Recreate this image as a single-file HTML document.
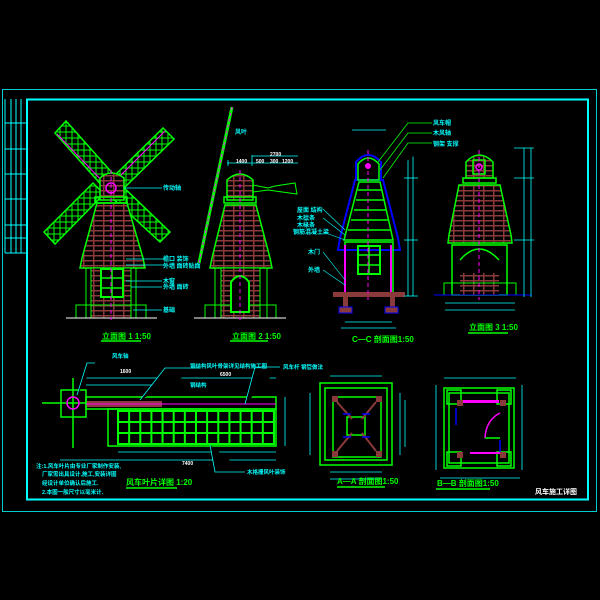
<!DOCTYPE html>
<html><head><meta charset="utf-8"><style>
html,body{margin:0;padding:0;background:#000;width:600px;height:600px;overflow:hidden}
svg{display:block}
text{font-family:"Liberation Sans","Noto Sans CJK SC",sans-serif;font-weight:bold}
</style></head><body>
<svg width="600" height="600" viewBox="0 0 600 600" xmlns="http://www.w3.org/2000/svg">
<defs>
<pattern id="brick" width="10" height="5" patternUnits="userSpaceOnUse">
<rect width="10" height="5" fill="#000"/>
<rect x="0" y="0" width="10" height="1.5" fill="#8a3a3a"/>
<rect x="3" y="0" width="1.5" height="5" fill="#8a3a3a"/>
</pattern>
<pattern id="grid" width="6" height="6" patternUnits="userSpaceOnUse">
<rect width="6" height="6" fill="none" stroke="#0f0" stroke-width="1"/>
</pattern>
<pattern id="grid2" x="118" y="411" width="11.14" height="11" patternUnits="userSpaceOnUse">
<rect width="11.14" height="11" fill="none" stroke="#0f0" stroke-width="2"/>
</pattern>
</defs>
<!-- frames -->
<rect x="2.5" y="89.5" width="594" height="422" fill="none" stroke="#0cc" stroke-width="1"/>
<rect x="27" y="99.5" width="561" height="400" fill="none" stroke="#0ff" stroke-width="2"/>
<g stroke="#0ff" stroke-width="1" fill="none">
<line x1="5" y1="99" x2="5" y2="253"/><line x1="11" y1="99" x2="11" y2="253"/><line x1="16" y1="99" x2="16" y2="253"/><line x1="21" y1="99" x2="21" y2="253"/>
<line x1="5" y1="123" x2="27" y2="123"/><line x1="5" y1="149" x2="27" y2="149"/><line x1="5" y1="174" x2="27" y2="174"/><line x1="5" y1="199" x2="27" y2="199"/><line x1="5" y1="225" x2="27" y2="225"/><line x1="5" y1="238" x2="27" y2="238"/><line x1="5" y1="253" x2="27" y2="253"/>
</g>

<!-- Elevation 1 -->
<g>
<g fill="url(#grid)" stroke="#0f0" stroke-width="1.5">
<polygon points="55,133 66,121 115,176 104,188"/>
<polygon points="163,128 174,139 122,190 111,179"/>
<polygon points="44,232 55,244 104,194 93,183"/>
<polygon points="160,242 170,232 120,184 109,195"/>
</g>
<line x1="57" y1="134" x2="108" y2="187" stroke="#f0f" stroke-width="1"/>
<line x1="165" y1="131" x2="113" y2="183" stroke="#f0f" stroke-width="1"/>
<polygon points="97,203 127,203 143,258 145,268 80,268 82,258" fill="url(#brick)" stroke="#0f0" stroke-width="1.5"/>
<path d="M100,200 L100,178 Q111,168 124,178 L124,200 Z" fill="url(#brick)" stroke="#0f0" stroke-width="1.5"/>
<rect x="95" y="197" width="32" height="6" fill="none" stroke="#0f0" stroke-width="1.5"/>
<rect x="91" y="268" width="40" height="50" fill="url(#brick)" stroke="#0f0" stroke-width="1"/>
<rect x="86" y="268" width="50" height="50" fill="none" stroke="#0f0" stroke-width="1"/>
<rect x="76" y="305" width="70" height="13" fill="none" stroke="#0f0" stroke-width="1"/>
<rect x="101" y="269" width="22" height="28" fill="#000" stroke="#0f0" stroke-width="2"/>
<path d="M101,278H123M101,288H123M112,269V297" stroke="#0f0" stroke-width="1.5"/>
<line x1="66" y1="318" x2="157" y2="318" stroke="#fff" stroke-width="1"/>
<line x1="111" y1="170" x2="111" y2="320" stroke="#f0f" stroke-width="1" stroke-dasharray="4,3"/>
<circle cx="111" cy="188" r="5" fill="none" stroke="#f0f" stroke-width="1.5"/>
<g stroke="#0ff" stroke-width="0.8"><line x1="124" y1="188" x2="162" y2="188"/><line x1="126" y1="259" x2="164" y2="259"/><line x1="126" y1="265" x2="164" y2="265"/><line x1="126" y1="281" x2="162" y2="281"/><line x1="131" y1="287" x2="162" y2="287"/><line x1="133" y1="310" x2="162" y2="310"/></g>
<g fill="#0ff" font-size="6"><text x="163" y="190">传动轴</text><text x="163" y="261">檐口 装饰</text><text x="163" y="268">外墙 面砖贴面</text><text x="163" y="283">木窗</text><text x="163" y="289">外墙 面砖</text><text x="163" y="312">基础</text></g>
<text x="102" y="339" fill="#0f0" font-size="8">立面图 1 1:50</text>
<line x1="101" y1="341" x2="141" y2="341" stroke="#0f0" stroke-width="1.5"/>
</g>

<!-- Elevation 2 -->
<g>
<line x1="232" y1="107" x2="199" y2="263" stroke="#0f0" stroke-width="3"/>
<line x1="232" y1="107" x2="199" y2="263" stroke="#f0f" stroke-width="1" stroke-dasharray="3,3"/>
<polygon points="225,205 256,205 270,258 272,268 210,268 212,258" fill="url(#brick)" stroke="#0f0" stroke-width="1.5"/>
<path d="M227,200 L227,180 Q240,168 253,180 L253,200 Z" fill="url(#brick)" stroke="#0f0" stroke-width="1.5"/>
<rect x="224" y="197" width="32" height="6" fill="none" stroke="#0f0" stroke-width="1.5"/>
<polyline points="253,185 268,188 275,186 295,183 297,194 275,191 268,190 253,192" fill="none" stroke="#0f0" stroke-width="1"/>
<rect x="221" y="268" width="39" height="50" fill="url(#brick)" stroke="#0f0" stroke-width="1"/>
<rect x="215" y="268" width="52" height="50" fill="none" stroke="#0f0" stroke-width="1"/>
<rect x="205" y="305" width="71" height="13" fill="none" stroke="#0f0" stroke-width="1"/>
<path d="M231,312 V282 Q240,270 249,282 V312 Z" fill="#000" stroke="#0f0" stroke-width="2"/>
<line x1="194" y1="318" x2="286" y2="318" stroke="#fff" stroke-width="1"/>
<line x1="240" y1="170" x2="240" y2="320" stroke="#f0f" stroke-width="1" stroke-dasharray="4,3"/>
<g stroke="#0ff" stroke-width="0.8"><line x1="227" y1="163" x2="298" y2="163"/><line x1="252" y1="156" x2="298" y2="156"/><line x1="228" y1="160" x2="228" y2="166"/><line x1="252" y1="155" x2="252" y2="166"/></g>
<g fill="#fff" font-size="5"><text x="236" y="163">1400</text><text x="270" y="156">2700</text><text x="256" y="163">500</text><text x="270" y="163">300</text><text x="282" y="163">1200</text></g>
<text x="235" y="134" fill="#0ff" font-size="6">风叶</text>
<text x="232" y="339" fill="#0f0" font-size="8">立面图 2 1:50</text>
<line x1="230" y1="341" x2="268" y2="341" stroke="#0f0" stroke-width="1.5"/>
</g>

<!-- C-C section -->
<g>
<polygon points="355,180 383,180 398,238 400,250 338,250 340,238" fill="none" stroke="#00f" stroke-width="2"/>
<polygon points="359,182 380,182 393,240 344,240" fill="none" stroke="#0f0" stroke-width="1.5"/>
<g stroke="#0f0" stroke-width="1.5"><line x1="358" y1="190" x2="382" y2="190"/><line x1="356" y1="200" x2="384" y2="200"/><line x1="354" y1="210" x2="386" y2="210"/><line x1="351" y1="220" x2="389" y2="220"/><line x1="348" y1="230" x2="391" y2="230"/></g>
<path d="M356,180 V162 Q368,148 381,162 V180 Z" fill="none" stroke="#00f" stroke-width="2"/>
<path d="M358,180 V164 Q368,152 379,164 V180 Z" fill="none" stroke="#0f0" stroke-width="1.5"/>
<circle cx="368" cy="166" r="3" fill="#f0f"/>
<rect x="345" y="242" width="48" height="51" fill="none" stroke="#0f0" stroke-width="1.5"/>
<rect x="358" y="246" width="22" height="28" fill="none" stroke="#0f0" stroke-width="2"/>
<path d="M358,255H380M358,265H380M369,246V274" stroke="#0f0" stroke-width="1.5"/>
<line x1="391" y1="245" x2="391" y2="293" stroke="#f0f" stroke-width="2"/>
<line x1="345" y1="245" x2="345" y2="293" stroke="#f0f" stroke-width="2"/>
<rect x="333" y="292" width="72" height="5" fill="#8a3a3a"/>
<rect x="343" y="297" width="5" height="14" fill="#8a3a3a"/>
<rect x="390" y="297" width="5" height="14" fill="#8a3a3a"/>
<rect x="339" y="307" width="13" height="6" fill="#8a3a3a" stroke="#00f"/>
<rect x="385" y="307" width="13" height="6" fill="#8a3a3a" stroke="#00f"/>
<line x1="368" y1="150" x2="368" y2="300" stroke="#f0f" stroke-width="1" stroke-dasharray="4,3"/>
<g stroke="#0ff" stroke-width="0.8" fill="none"><line x1="408" y1="148" x2="408" y2="296"/><line x1="413" y1="148" x2="413" y2="296"/><line x1="404" y1="148" x2="418" y2="148"/><line x1="404" y1="178" x2="418" y2="178"/><line x1="404" y1="240" x2="418" y2="240"/><line x1="404" y1="296" x2="418" y2="296"/><line x1="352" y1="130" x2="386" y2="130"/><line x1="345" y1="322" x2="392" y2="322"/><line x1="341" y1="328" x2="396" y2="328"/></g>
<g stroke="#0f0" stroke-width="0.8"><polyline points="378,162 408,123 432,123"/><polyline points="380,170 408,133 432,133"/><polyline points="383,178 408,143 432,143"/></g>
<g fill="#0ff" font-size="6"><text x="433" y="125">风车帽</text><text x="433" y="135">木风轴</text><text x="433" y="146">钢架 支撑</text><text x="297" y="212">屋面 结构</text><text x="297" y="220">木檩条</text><text x="297" y="227">木椽条</text><text x="293" y="234">钢筋混凝土梁</text><text x="308" y="254">木门</text><text x="308" y="272">外墙</text></g>
<g stroke="#0ff" stroke-width="0.6"><line x1="323" y1="209" x2="345" y2="230"/><line x1="323" y1="218" x2="345" y2="235"/><line x1="323" y1="232" x2="345" y2="240"/><line x1="323" y1="252" x2="345" y2="280"/><line x1="323" y1="270" x2="345" y2="285"/></g>
<text x="352" y="342" fill="#0f0" font-size="8">C—C 剖面图1:50</text>
</g>

<!-- Elevation 3 -->
<g>
<path d="M466,178 V162 Q479,148 493,162 V178 Z" fill="url(#brick)" stroke="#0f0" stroke-width="1.5"/>
<rect x="473" y="160" width="12" height="14" fill="none" stroke="#0f0" stroke-width="1.5"/>
<circle cx="479" cy="167" r="3" fill="none" stroke="#f0f" stroke-width="1.5"/>
<rect x="463" y="178" width="33" height="5" fill="none" stroke="#0f0" stroke-width="1.5"/>
<polygon points="459,185 500,185 511,235 512,243 448,243 449,235" fill="url(#brick)" stroke="#0f0" stroke-width="1.5"/>
<rect x="452" y="245" width="55" height="50" fill="none" stroke="#0f0" stroke-width="1.5"/>
<path d="M460,260 Q479,238 499,260" fill="none" stroke="#0f0" stroke-width="1.5"/>
<rect x="460" y="273" width="39" height="22" fill="url(#brick)"/>
<rect x="444" y="283" width="72" height="12" fill="none" stroke="#0f0" stroke-width="1"/>
<line x1="434" y1="295" x2="532" y2="295" stroke="#00f" stroke-width="1"/>
<line x1="479" y1="150" x2="479" y2="300" stroke="#f0f" stroke-width="1" stroke-dasharray="4,3"/>
<g stroke="#0ff" stroke-width="0.8"><line x1="524" y1="148" x2="524" y2="297"/><line x1="531" y1="148" x2="531" y2="297"/><line x1="514" y1="148" x2="534" y2="148"/><line x1="514" y1="178" x2="534" y2="178"/><line x1="514" y1="240" x2="534" y2="240"/><line x1="445" y1="303" x2="515" y2="303"/><line x1="445" y1="310" x2="515" y2="310"/></g>
<text x="469" y="330" fill="#0f0" font-size="8">立面图 3 1:50</text>
<line x1="468" y1="333" x2="508" y2="333" stroke="#0f0" stroke-width="1.5"/>
</g>

<!-- Blade plan -->
<g>
<rect x="61" y="390" width="25" height="27" fill="none" stroke="#0f0" stroke-width="1.5"/>
<line x1="73" y1="378" x2="73" y2="448" stroke="#0f0" stroke-width="1.5"/>
<line x1="42" y1="403" x2="108" y2="403" stroke="#0f0" stroke-width="1.5"/>
<circle cx="73" cy="403" r="6" fill="none" stroke="#f0f" stroke-width="1.5"/>
<rect x="87" y="401" width="75" height="6" fill="#8a3a3a"/>
<rect x="86" y="397" width="190" height="12" fill="none" stroke="#0f0" stroke-width="1.5"/>
<line x1="86" y1="404" x2="276" y2="404" stroke="#f0f" stroke-width="1"/>
<rect x="108" y="409" width="168" height="37" fill="none" stroke="#0f0" stroke-width="1.5"/>
<rect x="118" y="411" width="156" height="33" fill="url(#grid2)" stroke="#0f0" stroke-width="2"/>
<g stroke="#0ff" stroke-width="0.8"><line x1="86" y1="378" x2="276" y2="378"/><line x1="86" y1="385" x2="165" y2="385"/><line x1="60" y1="460" x2="276" y2="460"/><line x1="118" y1="452" x2="276" y2="452"/><line x1="285" y1="397" x2="285" y2="446"/><polyline points="95,363 87,363 77,395"/><polyline points="200,368 165,368 140,400"/><polyline points="280,367 255,367 245,404"/><polyline points="245,472 215,472 210,445"/></g>
<g fill="#0ff" font-size="5.5"><text x="112" y="358">风车轴</text><text x="190" y="368">钢结构风叶骨架详见结构施工图</text><text x="283" y="369">风车杆 钢管做法</text><text x="190" y="387">钢结构</text><text x="247" y="474">木格栅风叶装饰</text></g>
<g fill="#fff" font-size="5"><text x="120" y="373">1600</text><text x="220" y="376">6500</text><text x="182" y="465">7400</text></g>
<text x="126" y="485" fill="#0f0" font-size="8">风车叶片详图 1:20</text>
<line x1="126" y1="488" x2="177" y2="488" stroke="#0f0" stroke-width="1.5"/>
<g fill="#0ff" font-size="5.5"><text x="36" y="468">注:1.风车叶片由专业厂家制作安装,</text><text x="42" y="476">厂家需出具设计,施工,安装详图</text><text x="42" y="485">经设计单位确认后施工.</text><text x="42" y="494">2.本图一般尺寸以毫米计.</text></g>
</g>

<!-- A-A section -->
<g fill="none" stroke="#0f0" stroke-width="1.5">
<rect x="320" y="383" width="72" height="82"/>
<rect x="325" y="388" width="62" height="72"/>
<rect x="333" y="397" width="48" height="60"/>
<rect x="347" y="417" width="18" height="18"/>
<line x1="337" y1="402" x2="352" y2="419" stroke="#8a3a3a" stroke-width="2"/>
<line x1="376" y1="402" x2="362" y2="419" stroke="#8a3a3a" stroke-width="2"/>
<line x1="337" y1="451" x2="352" y2="433" stroke="#8a3a3a" stroke-width="2"/>
<line x1="376" y1="451" x2="362" y2="433" stroke="#8a3a3a" stroke-width="2"/>
</g>
<g fill="#8a3a3a"><rect x="332" y="396" width="6" height="6"/><rect x="376" y="396" width="6" height="6"/><rect x="332" y="451" width="6" height="6"/><rect x="376" y="451" width="6" height="6"/></g>
<g stroke="#00f" stroke-width="1.5"><line x1="343" y1="414" x2="351" y2="414"/><line x1="362" y1="414" x2="370" y2="414"/><line x1="343" y1="437" x2="351" y2="437"/><line x1="362" y1="437" x2="370" y2="437"/></g>
<g stroke="#0ff" stroke-width="0.8"><line x1="330" y1="376" x2="382" y2="376"/><line x1="310" y1="393" x2="310" y2="455"/><line x1="330" y1="472" x2="382" y2="472"/><line x1="330" y1="479" x2="382" y2="479"/><line x1="400" y1="393" x2="400" y2="455"/><line x1="405" y1="400" x2="405" y2="447"/></g>
<text x="337" y="484" fill="#0f0" font-size="8">A—A 剖面图1:50</text>
<line x1="337" y1="487" x2="385" y2="487" stroke="#0f0" stroke-width="1.5"/>

<!-- B-B section -->
<g fill="none" stroke="#0f0" stroke-width="1.5">
<rect x="444" y="388" width="70" height="80"/>
<rect x="449" y="393" width="60" height="70"/>
<rect x="447" y="390" width="14" height="14"/><rect x="497" y="390" width="14" height="14"/>
<rect x="447" y="452" width="14" height="14"/><rect x="497" y="452" width="14" height="14"/>
</g>
<g fill="#8a3a3a"><rect x="457" y="400" width="6" height="6"/><rect x="500" y="400" width="6" height="6"/><rect x="457" y="452" width="6" height="6"/><rect x="500" y="452" width="6" height="6"/></g>
<rect x="463" y="400" width="36" height="3" fill="#f0f"/>
<rect x="470" y="452" width="30" height="2" fill="#f0f"/>
<path d="M485,438 Q486,420 500,413" fill="none" stroke="#f0f" stroke-width="1.5"/>
<line x1="485" y1="438" x2="500" y2="438" stroke="#0f0" stroke-width="1.5"/>
<g stroke="#00f" stroke-width="1.5"><line x1="456" y1="408" x2="456" y2="425"/><line x1="500" y1="440" x2="500" y2="452"/></g>
<g stroke="#0ff" stroke-width="0.8"><line x1="444" y1="378" x2="516" y2="378"/><line x1="436" y1="385" x2="436" y2="470"/><line x1="522" y1="385" x2="522" y2="470"/><line x1="440" y1="478" x2="520" y2="478"/></g>
<text x="437" y="486" fill="#0f0" font-size="8">B—B 剖面图1:50</text>
<line x1="436" y1="489" x2="490" y2="489" stroke="#0f0" stroke-width="1.5"/>
<text x="535" y="494" fill="#fff" font-size="7">风车施工详图</text>
</svg>
</body></html>
